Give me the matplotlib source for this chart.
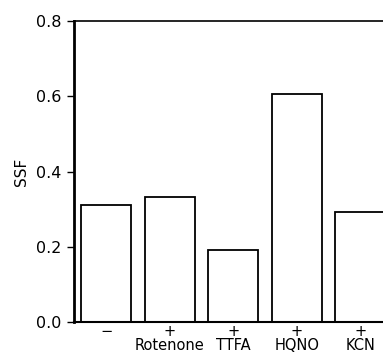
import numpy as np
import matplotlib.pyplot as plt

# data
signs = ['\u2212', '+', '+', '+', '+']
names = ['', 'Rotenone', 'TTFA', 'HQNO', 'KCN']
ssf = [0.312, 0.333, 0.192, 0.607, 0.292]
yticks = [0.0, 0.2, 0.4, 0.6, 0.8]

plt.rcParams['font.family'] = 'DejaVu Sans'

fig = plt.figure(figsize=(3.83, 3.54), dpi=100)
ax = fig.add_axes([74/383, 32/354, 1 - 74/383, 301/354])

x = np.arange(len(ssf))
ax.bar(x, ssf, width=0.79, color='white', edgecolor='black', linewidth=1.3)

labels = [s if n == '' else s + '\n' + n for s, n in zip(signs, names)]
ax.set_xticks(x)
ax.set_xticklabels(labels, fontsize=10.5, linespacing=0.95)
ax.tick_params(axis='x', length=0, pad=1.5)

ax.set_yticks(yticks)
ax.set_yticklabels([f'{v:.1f}' for v in yticks], fontsize=11.5)
ax.tick_params(axis='y', length=5, width=1, pad=4)
ax.set_ylabel('SSF', fontsize=11, labelpad=5)

ax.set_xlim(-0.51, 4.356)
ax.set_ylim(0, 0.8)

ax.spines['right'].set_visible(False)
ax.spines['left'].set_linewidth(2)
ax.spines['bottom'].set_linewidth(1.5)
ax.spines['top'].set_linewidth(1.2)

fig.savefig('out.png', dpi=100)
